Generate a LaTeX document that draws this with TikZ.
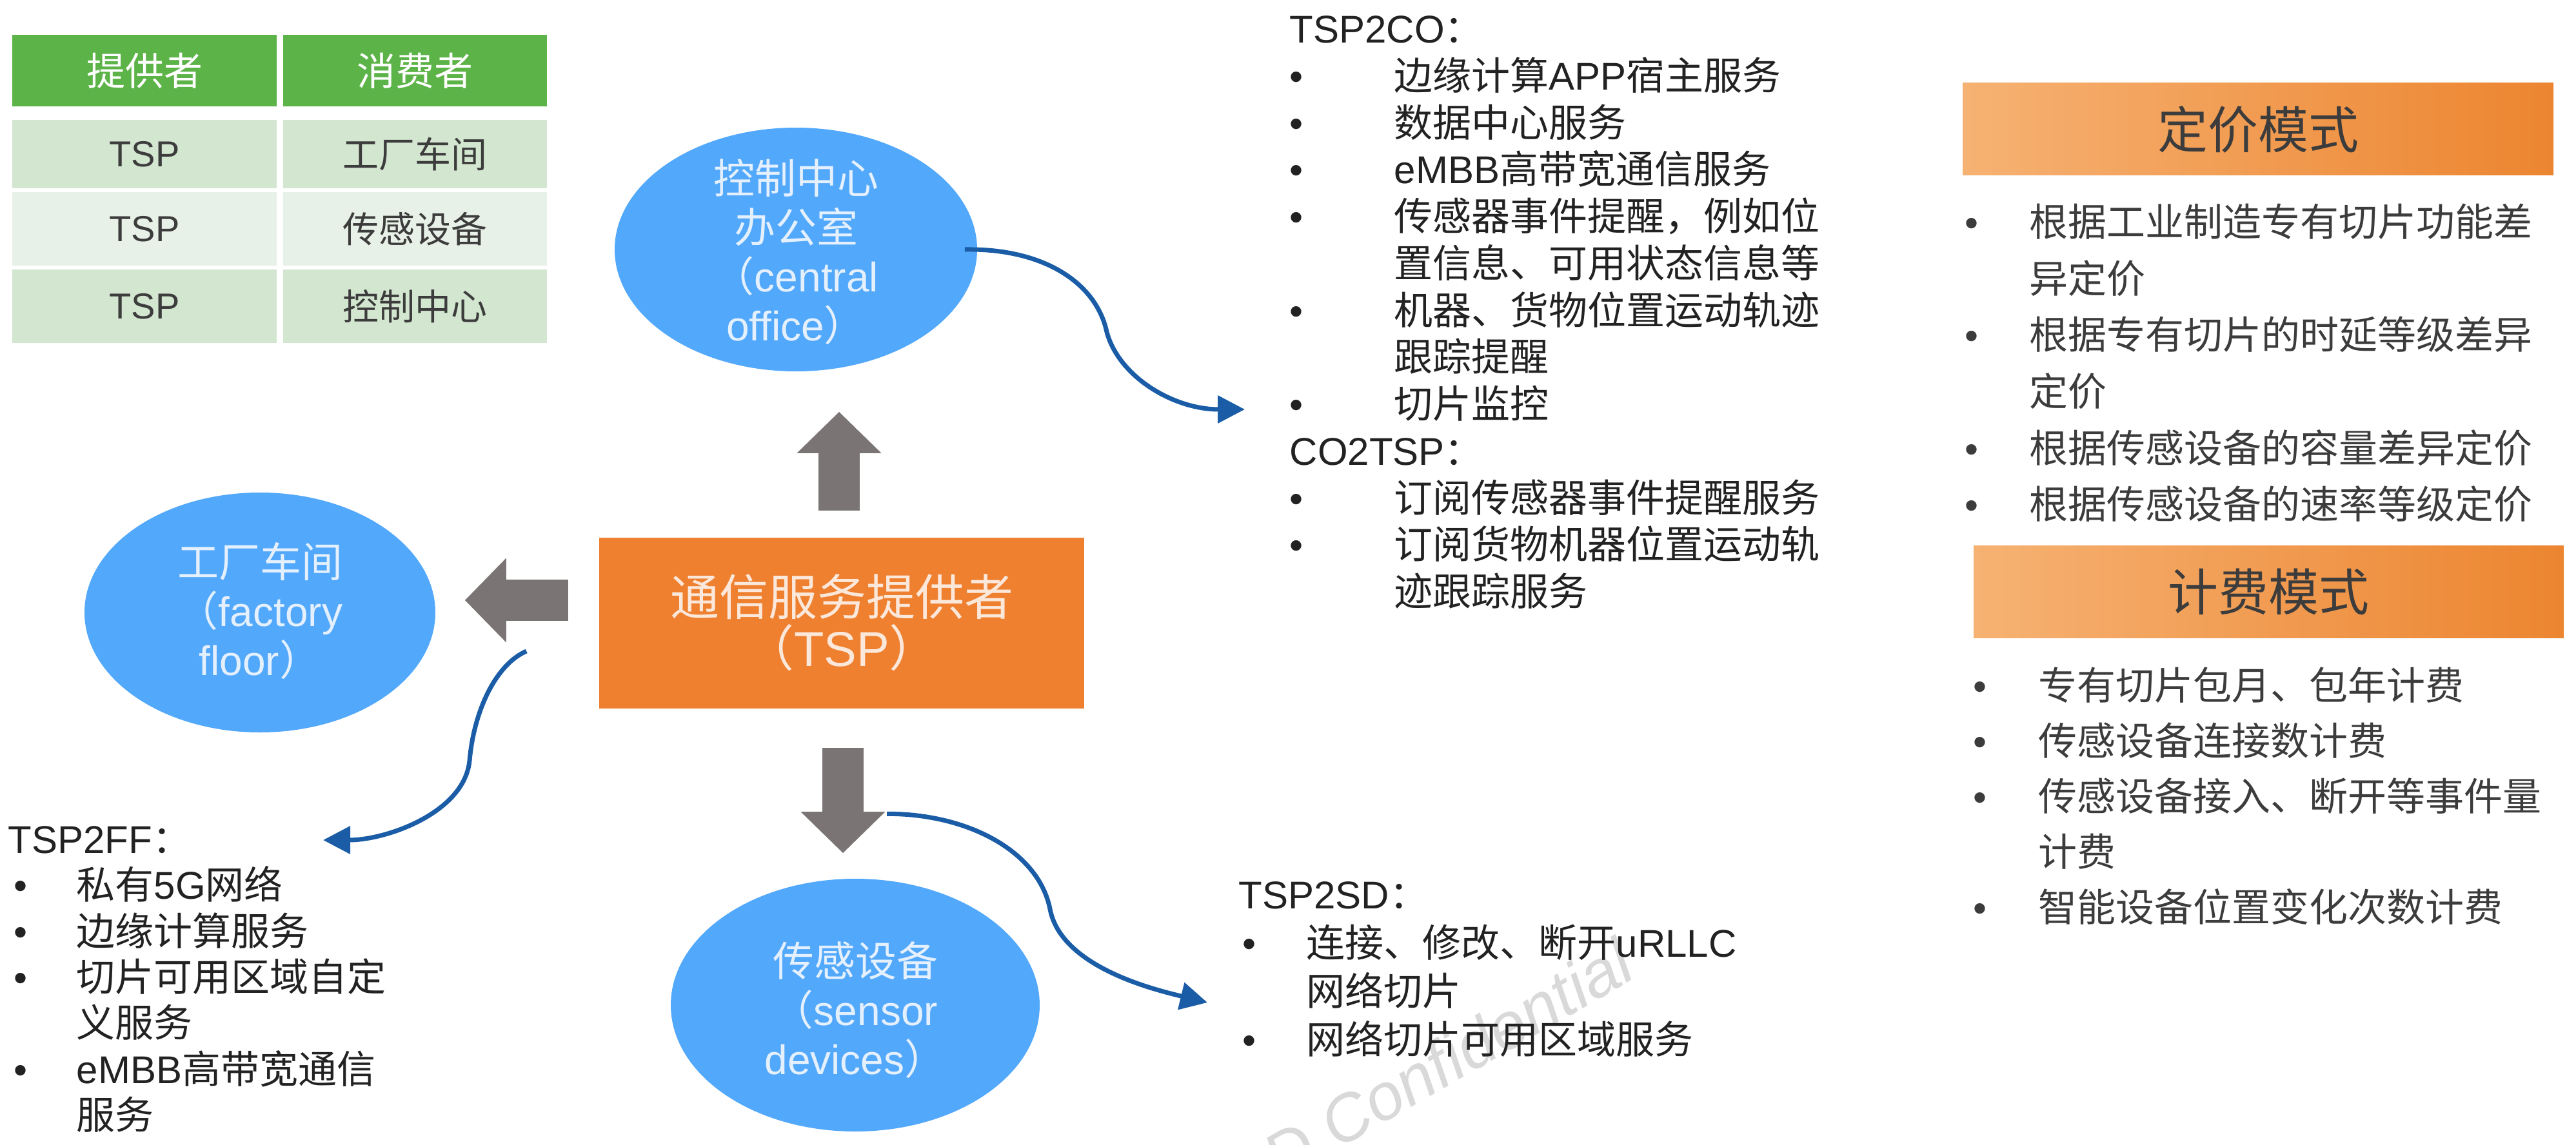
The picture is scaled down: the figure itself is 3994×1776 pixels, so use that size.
\documentclass[tikz,border=0pt]{standalone}
\usepackage{fontspec}
\setmainfont{Noto Sans CJK SC}
\newfontfamily\en{Liberation Sans}
\usetikzlibrary{shapes.geometric,arrows.meta}

\definecolor{tablehead}{HTML}{5CB347}
\definecolor{rowA}{HTML}{D3E6D0}
\definecolor{rowB}{HTML}{E8F1E7}
\definecolor{zoneblue}{HTML}{52A8FA}
\definecolor{zonetext}{HTML}{E4F0FD}
\definecolor{tsporange}{HTML}{EE8030}
\definecolor{tsptext}{HTML}{FCE8DA}
\definecolor{arrowgray}{HTML}{7A7574}
\definecolor{flowblue}{HTML}{1A5CA6}
\definecolor{titleL}{HTML}{F6B273}
\definecolor{titleR}{HTML}{EC8530}
\definecolor{ink}{HTML}{222222}
\definecolor{inkgray}{HTML}{3C3C3C}
\definecolor{wmgray}{HTML}{D9D9D9}

% bullet column width and bullet indent of a list
\newlength\bw
\newlength\bi
\newcommand\itm{\makebox[\bw][l]{\hspace*{\bi}{\en •}}}
\newcommand\cnt{\hspace*{\bw}}
% strut of one CJK em box, fixes the top of the first line
\newcommand\st{\rule[-0.12em]{0pt}{1em}}

\begin{document}
\begin{tikzpicture}[x=0.25pt,y=-0.25pt,
  cell/.style={rectangle,inner sep=0pt,minimum width=102.4pt},
  headcell/.style={cell,fill=tablehead,text=white,minimum height=27.75pt,
    font=\fontsize{15pt}{18pt}\selectfont},
  bodycell/.style={cell,text=inkgray,font=\fontsize{14pt}{17pt}\selectfont},
  zone/.style={ellipse,fill=zoneblue,inner sep=0pt},
  zonelabel/.style={inner sep=0pt,align=center,text=zonetext,
    font=\fontsize{16pt}{19pt}\selectfont},
  blockarrow/.style={draw=arrowgray,line width=16pt,
    -{Triangle[length=16pt,width=31.75pt]}},
  flow/.style={draw=flowblue,line width=1.75pt,
    -{Triangle[length=10.5pt,width=10.5pt]}},
  list/.style={anchor=north west,inner sep=0pt,align=left},
  modebox/.style={rectangle,inner sep=0pt,minimum height=35.75pt,
    left color=titleL,right color=titleR,text=inkgray,
    font=\fontsize{19.5pt}{22pt}\selectfont}]

% canvas
\useasboundingbox (0,0) rectangle (3994,1776);
\fill[white] (0,0) rectangle (3994,1776);

% watermark
\begin{scope}
  \clip (0,0) rectangle (3994,1776);
  \node[rotate=30,anchor=base west,inner sep=0pt,text=wmgray,
    font=\en\itshape\fontsize{25.5pt}{28pt}\selectfont] (wm) at (1985,1835) {D Confidential};
\end{scope}

% provider / consumer table
\node[headcell] (h1) at (224,109.5) {提供者};
\node[headcell] (h2) at (643.5,109.5) {消费者};
\node[bodycell,fill=rowA,minimum height=26.5pt] (a1) at (224,239) {\en TSP};
\node[bodycell,fill=rowA,minimum height=26.5pt] (b1) at (643.5,239) {工厂车间};
\node[bodycell,fill=rowB,minimum height=28.5pt] (a2) at (224,355) {\en TSP};
\node[bodycell,fill=rowB,minimum height=28.5pt] (b2) at (643.5,355) {传感设备};
\node[bodycell,fill=rowA,minimum height=28.5pt] (a3) at (224,475) {\en TSP};
\node[bodycell,fill=rowA,minimum height=28.5pt] (b3) at (643.5,475) {控制中心};

% consumers
\node[zone,minimum width=140.5pt,minimum height=94.5pt] (ctrl) at (1234,387) {};
\node[zonelabel] (ctrltxt) at (1234,391) {控制中心\\办公室\\（{\en central}\\{\en office}）};
\node[zone,minimum width=136pt,minimum height=93pt] (factory) at (403,950) {};
\node[zonelabel] (factorytxt) at (403,948) {工厂车间\\（{\en factory}\\{\en floor}）};
\node[zone,minimum width=143pt,minimum height=98pt] (sensor) at (1326,1559) {};
\node[zonelabel] (sensortxt) at (1326,1567) {传感设备\\（{\en sensor}\\{\en devices}）};

% provider
\node[rectangle,fill=tsporange,inner sep=0pt,minimum width=188pt,minimum height=66.25pt,
  align=center,text=tsptext,font=\fontsize{19pt}{19.75pt}\selectfont]
  (tsp) at (1305,966) {通信服务提供者\\（{\en TSP}）};

% block arrows from the provider to each consumer
\coordinate (la) at ([yshift=8.75pt]tsp.west);
\draw[blockarrow,shorten <=10.25pt,shorten >=15.5pt]
  ([xshift=-1pt]tsp.north) -- ([xshift=-1pt]tsp.north |- ctrl.south);
\draw[blockarrow,shorten <=11.75pt,shorten >=11.25pt]
  (la) -- (la -| factory.east);
\draw[blockarrow,shorten <=15.25pt,shorten >=9.75pt]
  ([xshift=0.5pt]tsp.south) -- ([xshift=0.5pt]tsp.south |- sensor.north);

% service flows
\coordinate (coend) at (1930,635);
\coordinate (ffend) at (501,1303);
\coordinate (sdend) at (1872,1555);
\draw[flow] ([xshift=-5pt]ctrl.east) .. controls (1620,385) and (1700,440) .. (1716,515)
  .. controls (1735,585) and (1820,635) .. (coend);
\draw[flow] ([xshift=-28pt,yshift=-11pt]tsp.west) .. controls (770,1030) and (735,1100) .. (728,1180)
  .. controls (720,1260) and (600,1303) .. (ffend);
\draw[flow] ([xshift=17.5pt,yshift=-40.75pt]tsp.south) .. controls (1500,1262) and (1610,1320) .. (1628,1410)
  .. controls (1645,1500) and (1790,1535) .. (sdend);

% TSP to control office
\setlength\bw{40.5pt}\setlength\bi{0pt}
\node[list,text=ink,font=\fontsize{15pt}{18.19pt}\selectfont] (co) at (1999,13) {\st{\en TSP2CO}：\\
\itm 边缘计算{\en APP}宿主服务\\
\itm 数据中心服务\\
\itm {\en eMBB}高带宽通信服务\\
\itm 传感器事件提醒，例如位\\
\cnt 置信息、可用状态信息等\\
\itm 机器、货物位置运动轨迹\\
\cnt 跟踪提醒\\
\itm 切片监控\\
{\en CO2TSP}：\\
\itm 订阅传感器事件提醒服务\\
\itm 订阅货物机器位置运动轨\\
\cnt 迹跟踪服务};

% TSP to factory floor
\setlength\bw{26.5pt}\setlength\bi{2.2pt}
\node[list,text=ink,font=\fontsize{15pt}{17.83pt}\selectfont] (ff) at (12,1270) {\st{\en TSP2FF}：\\
\itm 私有{\en 5G}网络\\
\itm 边缘计算服务\\
\itm 切片可用区域自定\\
\cnt 义服务\\
\itm {\en eMBB}高带宽通信\\
\cnt 服务};

% TSP to sensor devices
\setlength\bw{26.25pt}\setlength\bi{1.4pt}
\node[list,text=ink,font=\fontsize{15pt}{18.75pt}\selectfont] (sd) at (1920,1356) {\st{\en TSP2SD}：\\
\itm 连接、修改、断开{\en uRLLC}\\
\cnt 网络切片\\
\itm 网络切片可用区域服务};

% pricing model
\node[modebox,minimum width=229pt] (price) at (3501,200.5) {定价模式};
\setlength\bw{25pt}\setlength\bi{0pt}
\node[list,text=inkgray,font=\fontsize{15pt}{21.9pt}\selectfont] (pricelist) at (3046,313) {\st\itm 根据工业制造专有切片功能差\\
\cnt 异定价\\
\itm 根据专有切片的时延等级差异\\
\cnt 定价\\
\itm 根据传感设备的容量差异定价\\
\itm 根据传感设备的速率等级定价};

% billing model
\node[modebox,minimum width=228.75pt] (bill) at (3517.5,917.5) {计费模式};
\setlength\bw{25.25pt}\setlength\bi{0pt}
\node[list,text=inkgray,font=\fontsize{15pt}{21.5pt}\selectfont] (billlist) at (3059,1032) {\st\itm 专有切片包月、包年计费\\
\itm 传感设备连接数计费\\
\itm 传感设备接入、断开等事件量\\
\cnt 计费\\
\itm 智能设备位置变化次数计费};

\end{tikzpicture}
\end{document}
